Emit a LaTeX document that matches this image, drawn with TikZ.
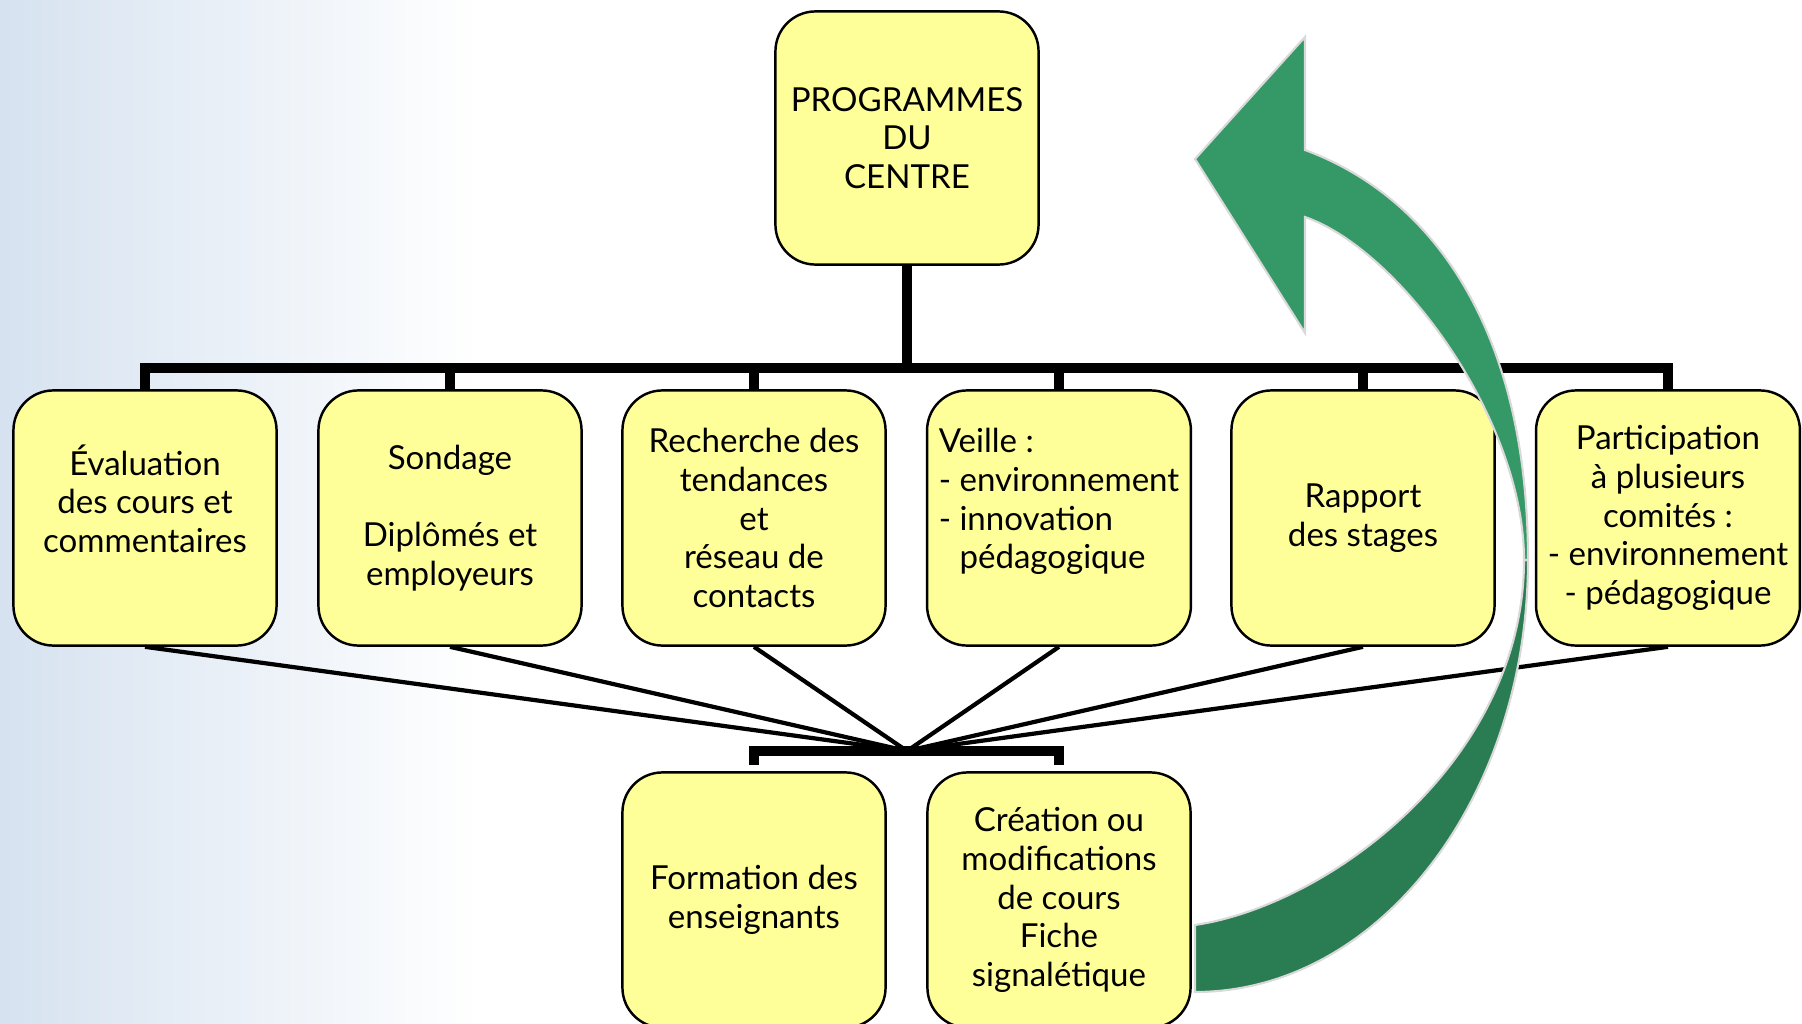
\documentclass[tikz,border=0pt]{standalone}
\usepackage{fontspec}
\setmainfont{Lato}
\usetikzlibrary{calc}

\definecolor{jaune}{HTML}{FFFF99}
\definecolor{vertclair}{HTML}{349966}
\definecolor{vertfonce}{HTML}{2A7C52}
\definecolor{fond}{HTML}{D6E2F0}

\begin{document}
\begin{tikzpicture}[x=0.01cm, y=-0.01cm,
    bloc/.style={draw, fill=jaune, rounded corners=0.4cm, line width=0.7pt,
      minimum width=2.63cm, minimum height=2.55cm, align=center,
      font=\fontsize{9.4}{11}\selectfont},
    bus/.style={line width=2.6pt},
    fil/.style={line width=1.2pt},
    ruban/.style={draw=black!15, line width=0.6pt}]
    \useasboundingbox (0,0) rectangle (1802,1024);
    \clip (0,0) rectangle (1802,1024);
    \shade[left color=fond, right color=white] (0,0) rectangle (480,1024);

    \node[bloc, minimum height=2.53cm] (prog) at (907,138) {PROGRAMMES\\DU\\CENTRE};
    \node[bloc] (eval) at (145,518) {Évaluation\\des cours et\\commentaires\\~};
    \node[bloc] (sond) at (450,518) {Sondage\\~\\Diplômés et\\employeurs};
    \node[bloc] (rech) at (754,518) {Recherche des\\tendances\\et\\réseau de\\contacts};
    \node[bloc, align=left] (veil) at (1059,518) {Veille :\\- environnement\\- innovation\\\phantom{- }pédagogique\\~};
    \node[bloc] (rapp) at (1363,518) {Rapport\\des stages};
    \node[bloc] (part) at (1668,518) {Participation\\à plusieurs\\comités :\\- environnement\\- pédagogique};
    \node[bloc] (form) at (754,900) {Formation des\\enseignants};
    \node[bloc] (crea) at (1059,900) {Création ou\\modifications\\de cours\\Fiche\\signalétique};

    \coordinate (haut) at (907,368);
    \coordinate (noeud) at (907,751);
    \draw[bus] (prog) -- (haut);
    \draw[bus] (eval.north) |- (haut) -| (part.north);
    \foreach \n in {sond,rech,veil,rapp}
      \draw[bus] (\n.north) -- (\n.north |- haut);
    \foreach \n in {eval,sond,rech,veil,rapp,part}
      \draw[fil] (\n.south) -- (noeud);
    \draw[bus] ($(form.north)+(0,-6)$) |- (noeud) -| ($(crea.north)+(0,-6)$);

    % fleche de retour vers le programme
    \filldraw[ruban, fill=vertfonce] (1195,992) .. controls (1379,992) and (1528,798) .. (1528,560)
      -- (1524,560) .. controls (1524,760) and (1330,905) .. (1195,925) -- cycle;
    \filldraw[ruban, fill=vertclair] (1528,560) .. controls (1528,340) and (1440,200) .. (1305,150)
      -- (1305,37) -- (1195,159) -- (1305,333) -- (1305,217)
      .. controls (1400,250) and (1524,420) .. (1524,560) -- cycle;
\end{tikzpicture}
\end{document}
